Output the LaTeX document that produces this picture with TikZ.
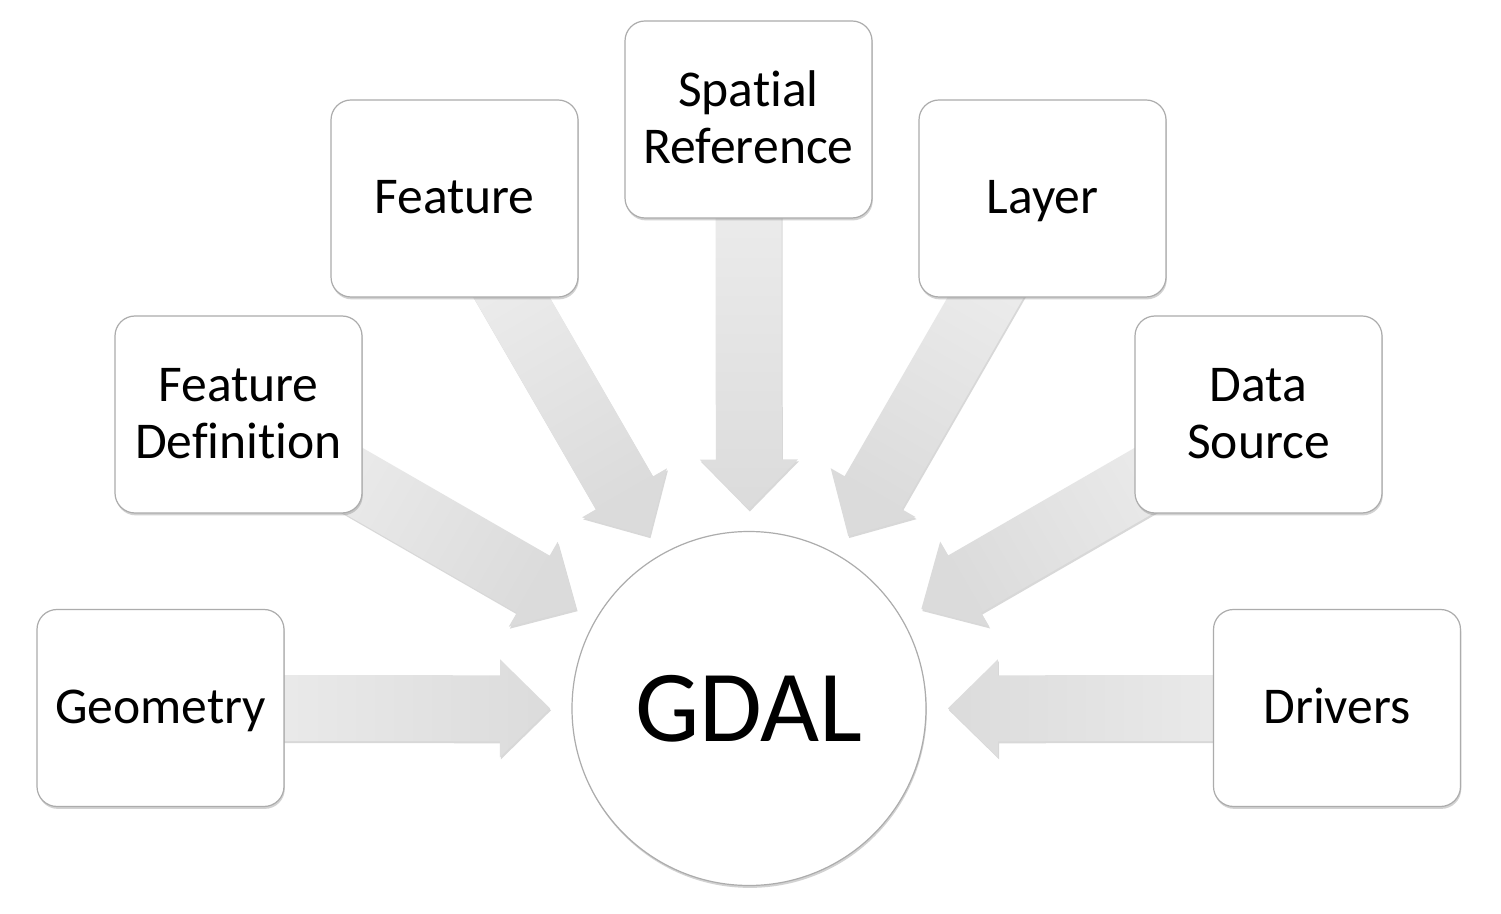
\documentclass[tikz,border=0pt]{standalone}
\usepackage{fontspec}
\setmainfont{Carlito}[Ligatures=NoCommon]
\usetikzlibrary{calc,shadows}
\newcommand\topstrut{\rule{0pt}{23.95pt}}
\newcommand\botstrut{\rule[-8.55pt]{0pt}{8.55pt}}
\tikzset{
  box/.style={draw=gray!65, line width=0.6pt, fill=white, rounded corners=10pt,
    minimum width=123.5pt, minimum height=98.5pt, align=center,
    font=\fontsize{25.8}{28.5}\selectfont,
    drop shadow={shadow xshift=0.4pt, shadow yshift=-1.2pt, opacity=0.35}},
  hub/.style={circle, draw=gray!65, line width=0.6pt, fill=white, minimum size=177pt,
    inner sep=0pt, font=\fontsize{51}{60}\selectfont,
    drop shadow={shadow xshift=0.4pt, shadow yshift=-1.2pt, opacity=0.35}},
  blockarrow/.style={top color=black!6, bottom color=black!14, draw=none,
    drop shadow={shadow xshift=0.5pt, shadow yshift=-1pt, opacity=0.3}}
}
\newcommand\radarrow[3]{%
  \coordinate (h-#2) at ($(#2)!25pt!(#1)$);
  \shade[blockarrow, shading angle=#3]
    ($(#1)!16.5pt!90:(#2)$) -- ($(h-#2)!16.5pt!90:(#2)$) --
    ($(h-#2)!24.5pt!90:(#2)$) -- (#2) -- ($(h-#2)!24.5pt!-90:(#2)$) --
    ($(h-#2)!16.5pt!-90:(#2)$) -- ($(#1)!16.5pt!-90:(#2)$) -- cycle;
}
\begin{document}
\begin{tikzpicture}[x=0.5pt, y=-0.5pt]
\useasboundingbox[fill=white] (0,0) rectangle (1501,914);
% centres of the nodes
\coordinate (cgdal) at (749,708.5);
\path (160.5,708) coordinate (cgeom)
      (238.5,414.5) coordinate (cfdef)
      (454.5,198.5) coordinate (cfeat)
      (748.5,119.5) coordinate (csref)
      (1042.5,198.5) coordinate (clayer)
      (1258.5,414.5) coordinate (cdsrc)
      (1337,708) coordinate (cdrv);
% arrow tips
\coordinate (tgeom) at ($(cgdal)!99.5pt!(cgeom)$);
\coordinate (tfdef) at ($(cgdal)!99.5pt!(cfdef)$);
\coordinate (tfeat) at ($(cgdal)!99.5pt!(cfeat)$);
\coordinate (tsref) at ($(cgdal)!99.5pt!(csref)$);
\coordinate (tlayer) at ($(cgdal)!99.5pt!(clayer)$);
\coordinate (tdsrc) at ($(cgdal)!99.5pt!(cdsrc)$);
\coordinate (tdrv) at ($(cgdal)!99.5pt!(cdrv)$);
% arrows
\radarrow{cgeom}{tgeom}{90}
\radarrow{cfdef}{tfdef}{60}
\radarrow{cfeat}{tfeat}{30}
\radarrow{csref}{tsref}{0}
\radarrow{clayer}{tlayer}{-30}
\radarrow{cdsrc}{tdsrc}{-60}
\radarrow{cdrv}{tdrv}{-90}
% nodes
\node[hub] (gdal) at (cgdal) {GDAL};
\node[box] (geom) at (cgeom) {\topstrut\botstrut Geometry};
\node[box] (fdef) at (cfdef) {\topstrut Feature\\\botstrut Definition};
\node[box] (feat) at (cfeat) {\topstrut\botstrut Feature};
\node[box] (sref) at (csref) {\topstrut Spatial\\\botstrut Reference};
\node[box] (layer) at (clayer) {\topstrut\botstrut Layer};
\node[box] (dsrc) at (cdsrc) {\topstrut Data\\\botstrut Source};
\node[box] (drv) at (cdrv) {\topstrut\botstrut Drivers};
\end{tikzpicture}
\end{document}
